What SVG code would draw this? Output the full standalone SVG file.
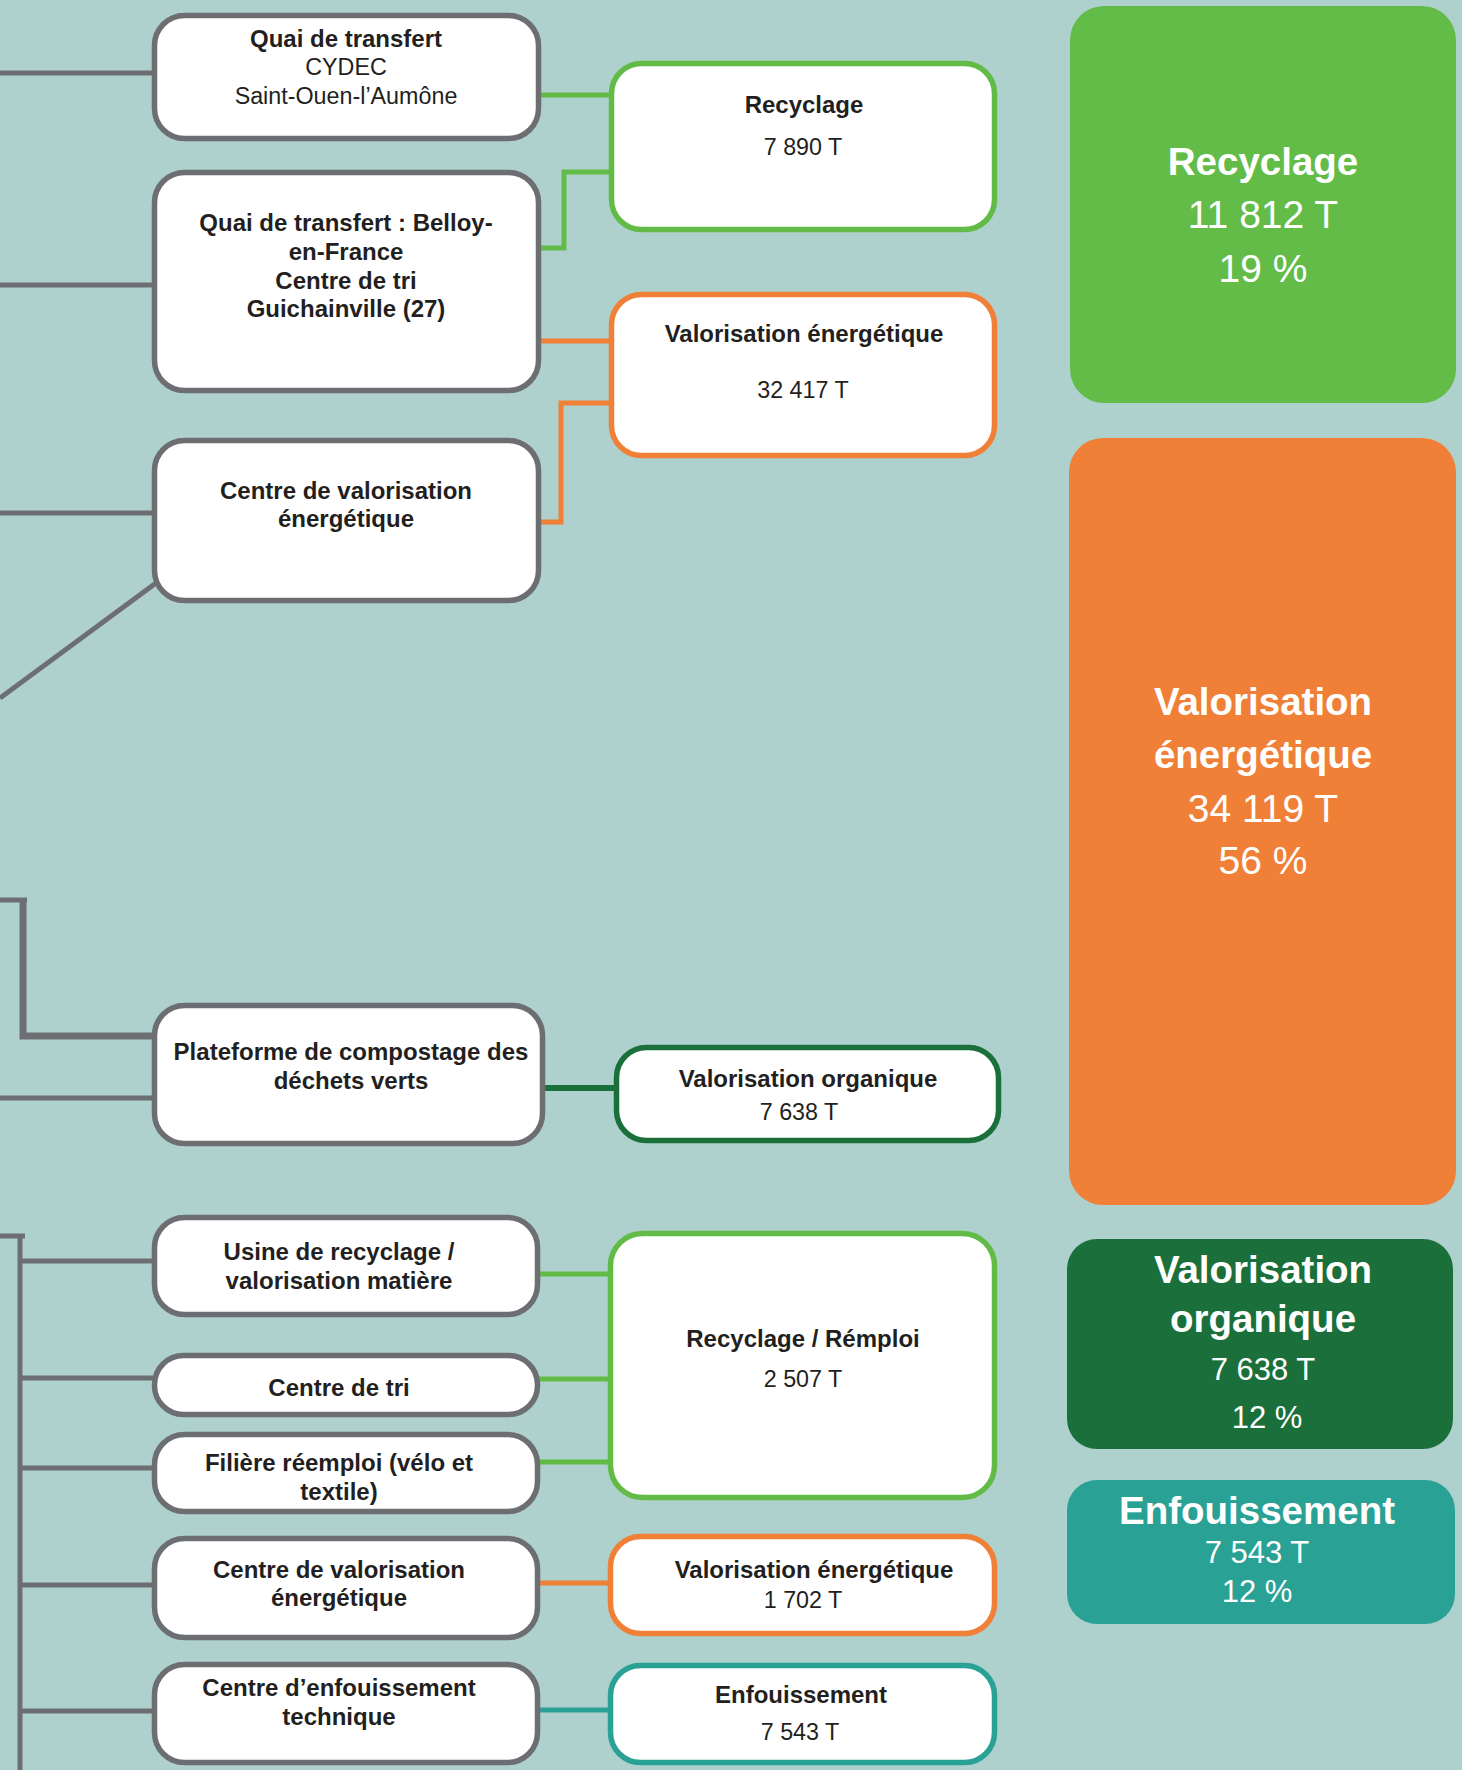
<svg xmlns="http://www.w3.org/2000/svg" width="1462" height="1770" viewBox="0 0 1462 1770">
<style>
.bg{fill:#aed1cd}
.node{fill:#ffffff;stroke-width:5.5}
.g{stroke:#6d6e71}
.gr{stroke:#62bb46}
.or{stroke:#f08037}
.dg{stroke:#1b6f3a}
.tl{stroke:#29a194}
.conn{fill:none;stroke-width:5}
.b{font-family:"Liberation Sans",Arial,sans-serif;font-weight:bold;font-size:24px;fill:#231f20;text-anchor:middle}
.r{font-family:"Liberation Sans",Arial,sans-serif;font-size:23.3px;fill:#231f20;text-anchor:middle}
.wb{font-family:"Liberation Sans",Arial,sans-serif;font-weight:bold;font-size:38.5px;fill:#ffffff;text-anchor:middle}
.wl{font-family:"Liberation Sans",Arial,sans-serif;font-size:39px;fill:#ffffff;text-anchor:middle}
.ws{font-family:"Liberation Sans",Arial,sans-serif;font-size:31px;fill:#ffffff;text-anchor:middle}
</style>
<rect class="bg" x="0" y="0" width="1462" height="1770"/>

<g id="connectors">
  <g class="conn g">
    <line x1="0" y1="73" x2="154" y2="73"/>
    <line x1="0" y1="285" x2="154" y2="285"/>
    <line x1="0" y1="513" x2="154" y2="513"/>
    <line x1="0" y1="698" x2="156" y2="583"/>
    <polyline points="0,900 27,900"/>
    <polyline points="23,898 23,1036 154,1036" stroke-width="7"/>
    <line x1="0" y1="1098" x2="154" y2="1098"/>
    <line x1="0" y1="1236" x2="25" y2="1236"/>
    <line x1="20" y1="1234" x2="20" y2="1770"/>
    <line x1="20" y1="1261" x2="154" y2="1261"/>
    <line x1="20" y1="1378" x2="154" y2="1378"/>
    <line x1="20" y1="1468" x2="154" y2="1468"/>
    <line x1="20" y1="1585" x2="154" y2="1585"/>
    <line x1="20" y1="1711" x2="154" y2="1711"/>
  </g>
  <g class="conn gr">
    <line x1="539" y1="95" x2="611" y2="95"/>
    <polyline points="539,248 564,248 564,172 611,172"/>
    <line x1="538" y1="1274" x2="610" y2="1274"/>
    <line x1="538" y1="1379" x2="610" y2="1379"/>
    <line x1="538" y1="1462" x2="610" y2="1462"/>
  </g>
  <g class="conn or">
    <line x1="539" y1="341" x2="611" y2="341"/>
    <polyline points="539,522 561,522 561,403 611,403"/>
    <line x1="538" y1="1583" x2="610" y2="1583"/>
  </g>
  <g class="conn dg">
    <line x1="543" y1="1088" x2="616" y2="1088" stroke-width="6"/>
  </g>
  <g class="conn tl">
    <line x1="538" y1="1710" x2="610" y2="1710"/>
  </g>
</g>

<g id="quai-cydec">
  <rect class="node g" x="154.5" y="15.5" width="384" height="123" rx="30"/>
  <text class="b" x="346" y="47">Quai de transfert</text>
  <text class="r" x="346" y="75">CYDEC</text>
  <text class="r" x="346" y="104">Saint-Ouen-l’Aumône</text>
</g>
<g id="quai-belloy">
  <rect class="node g" x="154.5" y="172.5" width="384" height="218" rx="30"/>
  <text class="b" x="346" y="231">Quai de transfert : Belloy-</text>
  <text class="b" x="346" y="260">en-France</text>
  <text class="b" x="346" y="289">Centre de tri</text>
  <text class="b" x="346" y="317">Guichainville (27)</text>
</g>
<g id="cve-1">
  <rect class="node g" x="154.5" y="440.5" width="384" height="160" rx="30"/>
  <text class="b" x="346" y="499">Centre de valorisation</text>
  <text class="b" x="346" y="527">énergétique</text>
</g>
<g id="compostage">
  <rect class="node g" x="154.5" y="1005.5" width="388" height="138" rx="30"/>
  <text class="b" x="351" y="1060">Plateforme de compostage des</text>
  <text class="b" x="351" y="1089">déchets verts</text>
</g>
<g id="usine">
  <rect class="node g" x="154.5" y="1217.5" width="383" height="97" rx="30"/>
  <text class="b" x="339" y="1260">Usine de recyclage /</text>
  <text class="b" x="339" y="1289">valorisation matière</text>
</g>
<g id="centre-tri">
  <rect class="node g" x="154.5" y="1355.5" width="383" height="59" rx="29"/>
  <text class="b" x="339" y="1396">Centre de tri</text>
</g>
<g id="filiere">
  <rect class="node g" x="154.5" y="1434.5" width="383" height="77" rx="30"/>
  <text class="b" x="339" y="1471">Filière réemploi (vélo et</text>
  <text class="b" x="339" y="1500">textile)</text>
</g>
<g id="cve-2">
  <rect class="node g" x="154.5" y="1538.5" width="383" height="99" rx="30"/>
  <text class="b" x="339" y="1578">Centre de valorisation</text>
  <text class="b" x="339" y="1606">énergétique</text>
</g>
<g id="cet">
  <rect class="node g" x="154.5" y="1664.5" width="383" height="98" rx="30"/>
  <text class="b" x="339" y="1696">Centre d’enfouissement</text>
  <text class="b" x="339" y="1725">technique</text>
</g>

<g id="recyclage-1">
  <rect class="node gr" x="611.5" y="63.5" width="383" height="166" rx="30"/>
  <text class="b" x="804" y="113">Recyclage</text>
  <text class="r" x="803" y="155">7 890 T</text>
</g>
<g id="valo-energie-1">
  <rect class="node or" x="611.5" y="294.5" width="383" height="161" rx="30"/>
  <text class="b" x="804" y="342">Valorisation énergétique</text>
  <text class="r" x="803" y="398">32 417 T</text>
</g>
<g id="valo-organique">
  <rect class="node dg" x="616.5" y="1047.5" width="382" height="93" rx="30"/>
  <text class="b" x="808" y="1087">Valorisation organique</text>
  <text class="r" x="799" y="1120">7 638 T</text>
</g>
<g id="recyclage-remploi">
  <rect class="node gr" x="610.5" y="1233.5" width="384" height="264" rx="32"/>
  <text class="b" x="803" y="1347">Recyclage / Rémploi</text>
  <text class="r" x="803" y="1387">2 507 T</text>
</g>
<g id="valo-energie-2">
  <rect class="node or" x="610.5" y="1536.5" width="384" height="97" rx="30"/>
  <text class="b" x="814" y="1578">Valorisation énergétique</text>
  <text class="r" x="803" y="1608">1 702 T</text>
</g>
<g id="enfouissement">
  <rect class="node tl" x="610.5" y="1665.5" width="384" height="97" rx="30"/>
  <text class="b" x="801" y="1703">Enfouissement</text>
  <text class="r" x="800" y="1740">7 543 T</text>
</g>

<g id="total-recyclage">
  <rect x="1070" y="6" width="386" height="397" rx="34" fill="#62bc47"/>
  <text class="wb" x="1263" y="175">Recyclage</text>
  <text class="wl" x="1263" y="228">11 812 T</text>
  <text class="wl" x="1263" y="282">19 %</text>
</g>
<g id="total-valo-energie">
  <rect x="1069" y="438" width="387" height="767" rx="34" fill="#f08037"/>
  <text class="wb" x="1263" y="715" font-size="40">Valorisation</text>
  <text class="wb" x="1263" y="768" font-size="40">énergétique</text>
  <text class="wl" x="1263" y="822">34 119 T</text>
  <text class="wl" x="1263" y="874">56 %</text>
</g>
<g id="total-valo-organique">
  <rect x="1067" y="1239" width="386" height="210" rx="30" fill="#1b6f3a"/>
  <text class="wb" x="1263" y="1283" font-size="39.5">Valorisation</text>
  <text class="wb" x="1263" y="1332">organique</text>
  <text class="ws" x="1263" y="1380">7 638 T</text>
  <text class="ws" x="1267" y="1428">12 %</text>
</g>
<g id="total-enfouissement">
  <rect x="1067" y="1480" width="388" height="144" rx="30" fill="#29a194"/>
  <text class="wb" x="1257" y="1524">Enfouissement</text>
  <text class="ws" x="1257" y="1563">7 543 T</text>
  <text class="ws" x="1257" y="1602">12 %</text>
</g>
</svg>
